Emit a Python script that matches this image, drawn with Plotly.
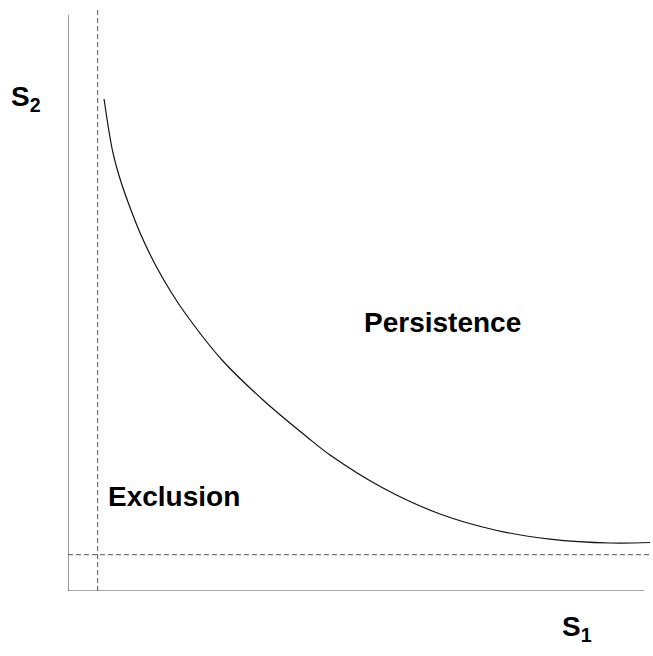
import plotly.graph_objects as go

# Boundary curve (S1, S2), arbitrary units 0-100
s1_curve = [6.19, 7.73, 9.11, 10.82, 12.54, 15.12, 17.70, 20.10, 26.46, 33.51,
            41.07, 45.02, 54.12, 63.92, 73.71, 82.82, 93.13, 100.0]
s2_curve = [84.54, 75.26, 70.27, 65.46, 61.17, 55.84, 51.37, 47.77, 39.69, 32.82,
            26.46, 23.37, 17.70, 13.23, 10.40, 8.93, 8.25, 8.33]

# Threshold lines
s1_threshold = 5.1
s2_threshold = 6.24

region_labels = ["Persistence", "Exclusion"]
region_x = [64.35, 18.13]
region_y = [46.05, 16.3]

fig = go.Figure()
fig.add_trace(go.Scatter(x=s1_curve, y=s2_curve, mode="lines",
                         line=dict(color="#111111", width=1.2, shape="spline", smoothing=1.0),
                         showlegend=False, hoverinfo="skip"))

dash_style = dict(color="#555555", width=1, dash="5px,3px")
fig.add_shape(type="line", x0=s1_threshold, x1=s1_threshold, y0=0, y1=100, xref="x", yref="y", line=dash_style)
fig.add_shape(type="line", x0=0, x1=100, y0=s2_threshold, y1=s2_threshold, xref="x", yref="y", line=dash_style)
axis_style = dict(color="#555555", width=1.2)
fig.add_shape(type="line", x0=0, x1=0, y0=0, y1=99, xref="x", yref="y", line=axis_style)
fig.add_shape(type="line", x0=0, x1=99, y0=0, y1=0, xref="x", yref="y", line=axis_style)

font = dict(family="Liberation Sans, Arial, sans-serif", size=28, color="black")
for t, x, y in zip(region_labels, region_x, region_y):
    fig.add_annotation(x=x, y=y, xref="x", yref="y", text="<b>%s</b>" % t,
                       showarrow=False, font=font, xanchor="center", yanchor="middle")
fig.add_annotation(x=-0.1015, y=0.8455, xref="paper", yref="paper", text="<b>S<sub>2</sub></b>",
                   showarrow=False, font=font, xanchor="left", yanchor="middle")
fig.add_annotation(x=0.8455, y=-0.0636, xref="paper", yref="paper", text="<b>S<sub>1</sub></b>",
                   showarrow=False, font=font, xanchor="left", yanchor="middle")

fig.update_xaxes(range=[0, 100], visible=False, showgrid=False, zeroline=False)
fig.update_yaxes(range=[0, 100], visible=False, showgrid=False, zeroline=False)
fig.update_layout(width=653, height=656, margin=dict(l=68, r=3, t=9, b=65),
                  plot_bgcolor="white", paper_bgcolor="white")
fig.write_html("out.html", config={"displayModeBar": False},
               post_script="document.body.style.margin='0px';document.body.style.overflow='hidden';")
